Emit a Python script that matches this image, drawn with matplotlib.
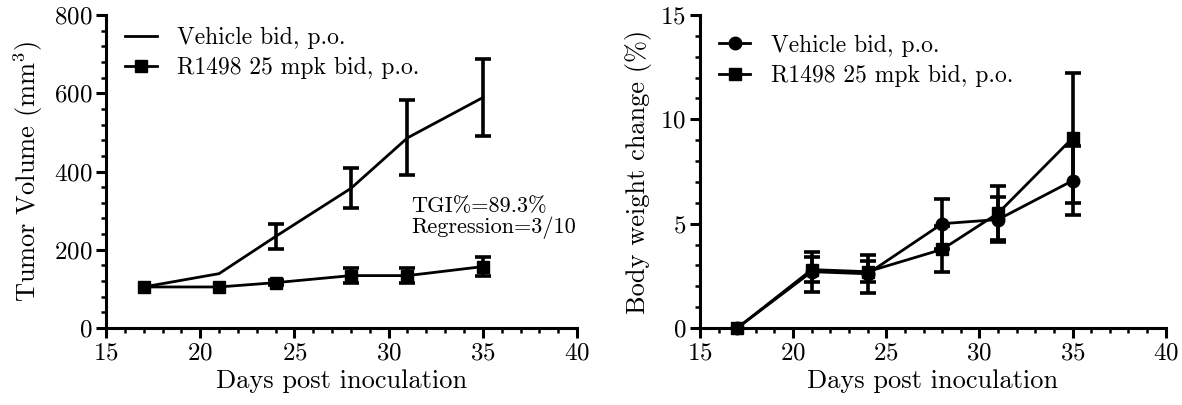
import matplotlib
matplotlib.use('Agg')
import matplotlib.pyplot as plt
from matplotlib.ticker import MultipleLocator

plt.rcParams['font.family'] = 'cmr10'
plt.rcParams['mathtext.fontset'] = 'cm'
plt.rcParams['axes.formatter.use_mathtext'] = True

nan = float('nan')
days = [17, 21, 24, 28, 31, 35]

# tumor volume (mm^3)
veh_tv = [105, 139, 234, 357, 486, 589]
veh_tv_err = [nan, nan, 33, 51, 96, 99]
r1498_tv = [105, 105, 116, 134, 134, 157]
r1498_tv_err = [nan, nan, 6, 20, 20, 25]

# body weight change (%)
veh_bw = [0, 2.7, 2.6, 5.0, 5.2, 7.06]
veh_bw_err = [nan, 0.95, 0.9, 1.2, 1.1, 1.65]
r1498_bw = [0, 2.8, 2.7, 3.77, 5.5, 9.1]
r1498_bw_err = [nan, 0.6, 0.5, 1.1, 1.3, 3.1]

lab_veh = 'Vehicle bid, p.o.'
lab_r = 'R1498 25 mpk bid, p.o.'

fig = plt.figure(figsize=(11.82, 4.05), dpi=100)
ax1 = fig.add_axes([0.0897, 0.19, 0.3985, 0.773])
ax2 = fig.add_axes([0.5922, 0.19, 0.394, 0.773])

lw = 2.0
ekw = dict(elinewidth=2.6, capsize=6, capthick=2.6, color='black', clip_on=False)

e1 = ax1.errorbar(days, veh_tv, yerr=veh_tv_err, lw=lw, **ekw)
e2 = ax1.errorbar(days, r1498_tv, yerr=r1498_tv_err, lw=lw, marker='s', ms=9, **ekw)
ax1.text(31.2, 282, 'TGI%=89.3%\nRegression=3/10', fontsize=16,
         va='center', ha='left', linespacing=1.05)
ax1.set_ylim(0, 800)
ax1.yaxis.set_major_locator(MultipleLocator(200))
ax1.yaxis.set_minor_locator(MultipleLocator(40))
ax1.set_ylabel('Tumor Volume (mm$^3$)', fontsize=19, labelpad=6)
ax1.legend([e1[0], e2[0]], [lab_veh, lab_r], loc='upper left',
           bbox_to_anchor=(0.04, 0.962), borderaxespad=0, borderpad=0,
           frameon=False, fontsize=17, handlelength=1.35,
           handletextpad=0.85, labelspacing=0.35)

f1 = ax2.errorbar(days, veh_bw, yerr=veh_bw_err, lw=lw, marker='o', ms=9, **ekw)
f2 = ax2.errorbar(days, r1498_bw, yerr=r1498_bw_err, lw=lw, marker='s', ms=9, **ekw)
ax2.set_ylim(0, 15)
ax2.yaxis.set_major_locator(MultipleLocator(5))
ax2.yaxis.set_minor_locator(MultipleLocator(1))
ax2.set_ylabel('Body weight change (%)', fontsize=19, labelpad=6)
ax2.legend([f1[0], f2[0]], [lab_veh, lab_r], loc='upper left',
           bbox_to_anchor=(0.04, 0.938), borderaxespad=0, borderpad=0,
           frameon=False, fontsize=17, handlelength=1.35,
           handletextpad=0.85, labelspacing=0.35)

for ax in (ax1, ax2):
    ax.set_xlim(15, 40)
    ax.xaxis.set_major_locator(MultipleLocator(5))
    ax.xaxis.set_minor_locator(MultipleLocator(1))
    ax.set_xlabel('Days post inoculation', fontsize=19, labelpad=4)
    ax.spines['top'].set_visible(False)
    ax.spines['right'].set_visible(False)
    ax.spines['left'].set_linewidth(2.2)
    ax.spines['bottom'].set_linewidth(2.2)
    ax.tick_params(which='major', direction='out', length=7, width=2.2,
                   labelsize=18, pad=3)
    ax.tick_params(which='minor', direction='out', length=3.5, width=1.8)

plt.savefig('out.png', dpi=100)
